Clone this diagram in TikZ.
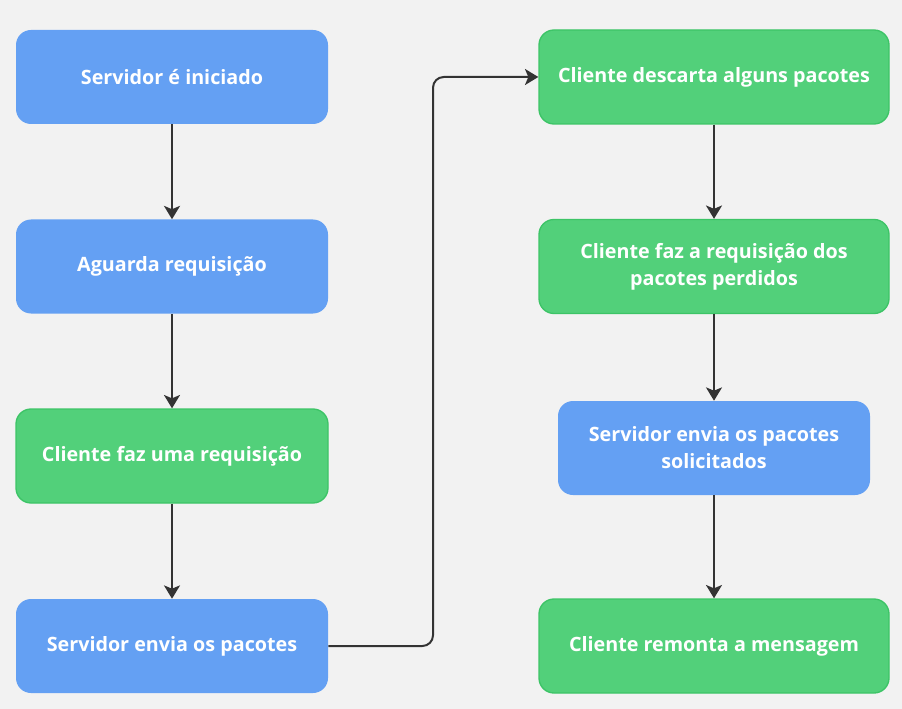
\documentclass[tikz,border=0pt]{standalone}
\usepackage{fontspec}
\setmainfont{Open Sans}
\usetikzlibrary{arrows.meta}
\definecolor{bgcol}{HTML}{F2F2F2}
\definecolor{srvblue}{HTML}{64A0F3}
\definecolor{clgreen}{HTML}{52D07A}
\definecolor{clborder}{HTML}{3DC467}
\definecolor{arrowcol}{HTML}{333333}
\tikzset{
  stepbox/.style={rounded corners=11.25pt, minimum height=70.5pt, align=center,
    text=white, font=\fontsize{14.8}{20.3}\selectfont\bfseries, inner sep=0pt},
  srv/.style={stepbox, fill=srvblue, minimum width=234pt},
  cli/.style={stepbox, fill=clgreen, draw=clborder, line width=1pt, minimum width=234pt},
  wide/.style={minimum width=262.5pt},
  flow/.style={draw=arrowcol, line width=1.5pt, -{Stealth[length=10pt,width=12pt,inset=2.5pt]}}
}
\begin{document}
\begin{tikzpicture}[x=0.75pt,y=-0.75pt]
  % Background and page size
  \fill[bgcol] (0,0) rectangle (902,709);

  % Left column
  \node[srv] (start) at (172,77) {Servidor é iniciado};
  \node[srv] (wait) at (172,266.5) {Aguarda requisição};
  \node[cli] (req) at (172,456) {Cliente faz uma requisição};
  \node[srv] (send) at (172,646) {Servidor envia os pacotes};

  % Right column
  \node[cli,wide] (drop) at (714,77) {Cliente descarta alguns pacotes};
  \node[cli,wide] (ask) at (714,266.5) {Cliente faz a requisição dos\\pacotes perdidos};
  \node[srv] (resend) at (714,448) {Servidor envia os pacotes\\solicitados};
  \node[cli,wide] (build) at (714,646) {Cliente remonta a mensagem};

  % Arrows
  \draw[flow] (start) -- (wait);
  \draw[flow] (wait) -- (req);
  \draw[flow] (req) -- (send);
  \draw[flow, rounded corners=8pt] (send.east) -- (433,646) -- (433,77) -- (drop.west);
  \draw[flow] (drop) -- (ask);
  \draw[flow] (ask) -- (resend);
  \draw[flow] (resend) -- (build);
\end{tikzpicture}
\end{document}
